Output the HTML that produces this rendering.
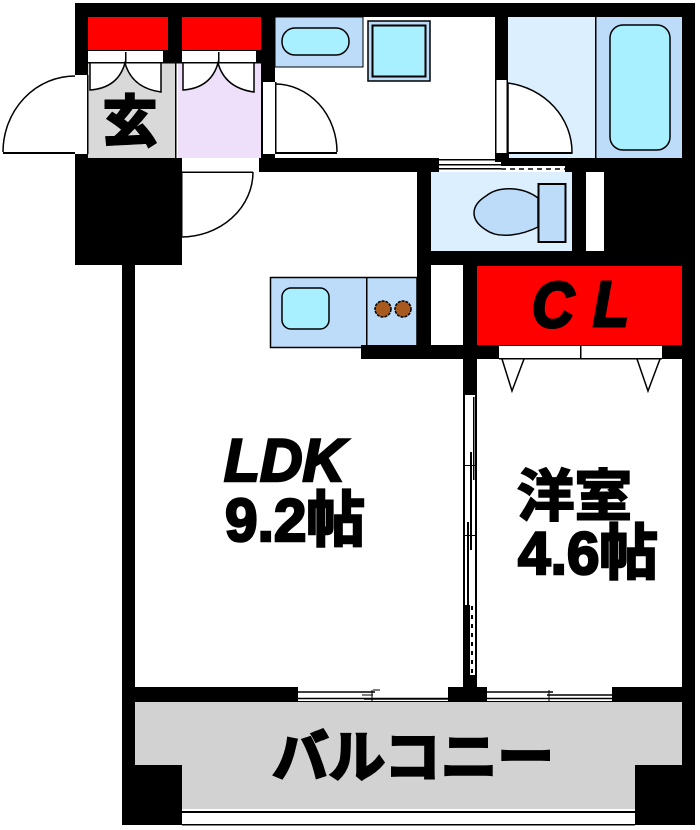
<!DOCTYPE html>
<html><head><meta charset="utf-8">
<style>
html,body{margin:0;padding:0;background:#fff;width:700px;height:830px;overflow:hidden}
svg{display:block}
text{font-family:"Liberation Sans","Noto Sans CJK JP",sans-serif;font-weight:bold;fill:#000;stroke:#000}
</style></head><body>
<svg width="700" height="830" viewBox="0 0 700 830" xmlns="http://www.w3.org/2000/svg">
<!-- exterior mass -->
<rect x="75" y="3" width="620" height="262" fill="#000"/>
<rect x="122" y="265" width="573" height="560" fill="#000"/>
<!-- interior -->
<rect x="88" y="17" width="80" height="33" fill="#f00"/>
<rect x="182" y="17" width="79" height="33" fill="#f00"/>
<rect x="88" y="51" width="75" height="11" fill="#fff"/>
<rect x="182" y="51" width="74" height="11" fill="#fff"/>
<rect x="125" y="52" width="1.5" height="10" fill="#000"/>
<rect x="218" y="52" width="1.5" height="10" fill="#000"/>
<!-- genkan -->
<rect x="88" y="63" width="87" height="95" fill="#d9d9d9"/>
<rect x="178" y="63" width="83" height="95" fill="#eee0fa"/>
<rect x="175" y="63" width="3" height="95" fill="#fff"/>
<rect x="175" y="63" width="1.5" height="95" fill="#000"/>
<!-- closet door leaves -->
<path d="M90 63V90Q118 88 125 63Q132 88 161 92V63Z" fill="#fff"/>
<path d="M90 63V90Q118 88 125 63Q132 88 161 92V63" fill="none" stroke="#000" stroke-width="1.5"/>
<path d="M183 63V90Q211 88 218 63Q225 88 254 92V63Z" fill="#fff"/>
<path d="M183 63V90Q211 88 218 63Q225 88 254 92V63" fill="none" stroke="#000" stroke-width="1.5"/>
<rect x="88" y="62" width="173" height="1.5" fill="#000"/>
<!-- entrance door -->
<rect x="75" y="75" width="13" height="79" fill="#fff"/>
<rect x="87" y="75" width="1.5" height="79" fill="#000"/>
<rect x="3" y="152" width="72" height="2" fill="#000"/>
<path d="M75 76A72 76 0 0 0 3 152" fill="none" stroke="#000" stroke-width="1.5"/>
<!-- hall -->
<rect x="275" y="17" width="220" height="141" fill="#fff"/>
<rect x="263" y="82" width="12" height="72" fill="#fff"/>
<rect x="261" y="82" width="1.5" height="72" fill="#000"/>
<rect x="275" y="82" width="1.5" height="72" fill="#000"/>
<path d="M275 84A62 68 0 0 1 337 152" fill="none" stroke="#000" stroke-width="1.5"/>
<rect x="275" y="152" width="62" height="2" fill="#000"/>
<!-- vanity -->
<rect x="275" y="17" width="88" height="50" fill="#bcdcfa" stroke="#000" stroke-width="1"/>
<rect x="282" y="28" width="67" height="27" rx="13" fill="#a8f0ff" stroke="#000" stroke-width="1.5"/>
<rect x="368" y="21" width="62" height="60" fill="#bcdcfa" stroke="#000" stroke-width="1.5"/>
<rect x="372.5" y="25.5" width="53" height="51" fill="#a8f0ff" stroke="#000" stroke-width="2"/>
<!-- washroom -->
<rect x="508" y="17" width="87" height="141" fill="#dcefff"/>
<rect x="596" y="17" width="86" height="141" fill="#bcdcfa"/>
<rect x="595" y="17" width="1.5" height="141" fill="#000"/>
<rect x="610" y="25" width="60" height="125" rx="13" fill="#a8f0ff" stroke="#000" stroke-width="1.5"/>
<path d="M508 153V83A75 70 0 0 1 572 153Z" fill="#fff" stroke="#000" stroke-width="1.5"/>
<rect x="496" y="80" width="11" height="74" fill="#fff"/>
<rect x="495" y="80" width="1.5" height="74" fill="#000"/>
<rect x="506.5" y="80" width="1.5" height="74" fill="#000"/>
<rect x="508" y="152" width="64" height="2" fill="#000"/>
<!-- toilet -->
<rect x="431" y="172" width="141" height="79" fill="#dcefff"/>
<path d="M538 198C522 186 498 186 486 196C470 206 470 220 486 230C500 240 524 234 538 227Z" fill="#bcdcfa" stroke="#000" stroke-width="1.5"/>
<rect x="538.500" y="184" width="27" height="58" fill="#bcdcfa" stroke="#000" stroke-width="2"/>
<rect x="586" y="172" width="18" height="79" fill="#fff"/>
<!-- LDK -->
<rect x="135" y="265" width="328" height="422" fill="#fff"/>
<rect x="182" y="172" width="235" height="93" fill="#fff"/>
<rect x="417" y="265" width="14" height="83" fill="#000"/>
<rect x="431" y="265" width="32" height="80" fill="#fff"/>
<rect x="463" y="265" width="14" height="130" fill="#000"/>
<!-- door to LDK -->
<rect x="182" y="158" width="77" height="14" fill="#fff"/>
<rect x="182" y="171.500" width="71" height="1.500" fill="#000"/>
<rect x="181" y="172" width="1.500" height="65" fill="#000"/>
<path d="M253 172A72 65 0 0 1 181 237" fill="none" stroke="#000" stroke-width="1.500"/>
<rect x="259" y="158" width="180" height="14" fill="#000"/>
<!-- sliding door above toilet -->
<rect x="439" y="158" width="62" height="14" fill="#fff"/>
<rect x="439" y="159" width="56" height="1.500" fill="#000"/>
<rect x="439" y="164" width="62" height="1.500" fill="#000"/>
<rect x="439" y="168" width="62" height="1.500" fill="#000"/>
<rect x="495" y="153" width="14" height="9" fill="#000"/>
<rect x="501" y="158" width="64" height="8" fill="#000"/>
<rect x="501" y="166" width="64" height="6" fill="#fff"/>
<path d="M501 169H565" stroke="#000" stroke-width="1.500" stroke-dasharray="5 4" fill="none"/>
<!-- kitchen -->
<rect x="270.500" y="277.500" width="146.500" height="70" fill="#bcdcfa" stroke="#000" stroke-width="1.500"/>
<rect x="366" y="277" width="1.500" height="68" fill="#000"/>
<rect x="282" y="288" width="47" height="41" rx="9" fill="#a8f0ff" stroke="#000" stroke-width="1.500"/>
<circle cx="383" cy="309" r="8" fill="#a85a1e" stroke="#000" stroke-width="1.500" stroke-dasharray="3 1"/>
<circle cx="403" cy="309" r="8" fill="#a85a1e" stroke="#000" stroke-width="1.500" stroke-dasharray="3 1"/>
<rect x="361" y="345" width="116" height="14" fill="#000"/>
<!-- CL -->
<rect x="477" y="266" width="205" height="79" fill="#f00"/>
<rect x="499" y="346" width="163" height="12" fill="#fff"/>
<rect x="580" y="346" width="1.500" height="13" fill="#000"/>
<!-- western room -->
<rect x="477" y="359" width="205" height="328" fill="#fff"/>
<rect x="499" y="358" width="163" height="1.500" fill="#000"/>
<path d="M502 359L512 391L524 359" fill="none" stroke="#000" stroke-width="1.500"/>
<path d="M637 359L648 391L660 359" fill="none" stroke="#000" stroke-width="1.500"/>
<!-- sliding partition -->
<rect x="463" y="395" width="14" height="292" fill="#fff"/>
<rect x="463" y="395" width="2" height="292" fill="#000"/>
<rect x="475" y="395" width="2" height="292" fill="#000"/>
<rect x="473" y="397" width="1.500" height="83" fill="#000"/>
<rect x="470" y="452" width="2" height="98" fill="#000"/>
<rect x="467" y="522" width="2" height="88" fill="#000"/>
<rect x="464" y="465" width="12" height="1" fill="#000"/>
<rect x="464" y="535" width="12" height="1" fill="#000"/>
<rect x="463" y="605" width="7" height="82" fill="#000"/>
<path d="M472 606V676" stroke="#000" stroke-width="2" stroke-dasharray="4 5" fill="none"/>
<rect x="465" y="675" width="12" height="12" fill="#000"/>
<!-- south wall -->
<rect x="122" y="687" width="573" height="14" fill="#000"/>
<rect x="298" y="687" width="150" height="14" fill="#fff"/>
<rect x="487" y="687" width="125" height="14" fill="#fff"/>
<path d="M298 692H375M364 699H448M298 698.500H448" stroke="#000" stroke-width="1.500" fill="none"/>
<path d="M373 690H380M362 695H373M372 690V701" stroke="#000" stroke-width="1" fill="none"/>
<path d="M487 692H553M547 695H612M487 698.500H612" stroke="#000" stroke-width="1.500" fill="none"/>
<path d="M549 690V701" stroke="#000" stroke-width="1" fill="none"/>
<!-- balcony -->
<rect x="135" y="702" width="547" height="63" fill="#d2d2d2"/>
<rect x="182" y="765" width="453" height="44" fill="#d2d2d2"/>
<rect x="182" y="809" width="453" height="16" fill="#fff"/>
<rect x="182" y="811" width="453" height="2" fill="#000"/>
<rect x="182" y="824" width="453" height="1.500" fill="#000"/>
<!-- labels -->
<text x="103" y="141" font-size="55" stroke-width="3" textLength="54" lengthAdjust="spacingAndGlyphs">玄</text>
<text x="532" y="327" font-size="64" stroke-width="3" font-style="italic" textLength="42" lengthAdjust="spacingAndGlyphs">C</text>
<text x="593" y="326" font-size="64" stroke-width="3" font-style="italic" textLength="36" lengthAdjust="spacingAndGlyphs">L</text>
<text x="224" y="481" font-size="60" stroke-width="2.500" font-style="italic" textLength="121" lengthAdjust="spacingAndGlyphs">LDK</text>
<text x="225" y="541" font-size="60" stroke-width="2.500" textLength="140" lengthAdjust="spacingAndGlyphs">9.2帖</text>
<text x="517" y="516" font-size="56" stroke-width="2" textLength="115" lengthAdjust="spacingAndGlyphs">洋室</text>
<text x="518" y="574" font-size="60" stroke-width="2.500" textLength="140" lengthAdjust="spacingAndGlyphs">4.6帖</text>
<text x="272" y="777" font-size="56" stroke-width="2.500" textLength="282" lengthAdjust="spacingAndGlyphs">バルコニー</text>
</svg>
</body></html>
